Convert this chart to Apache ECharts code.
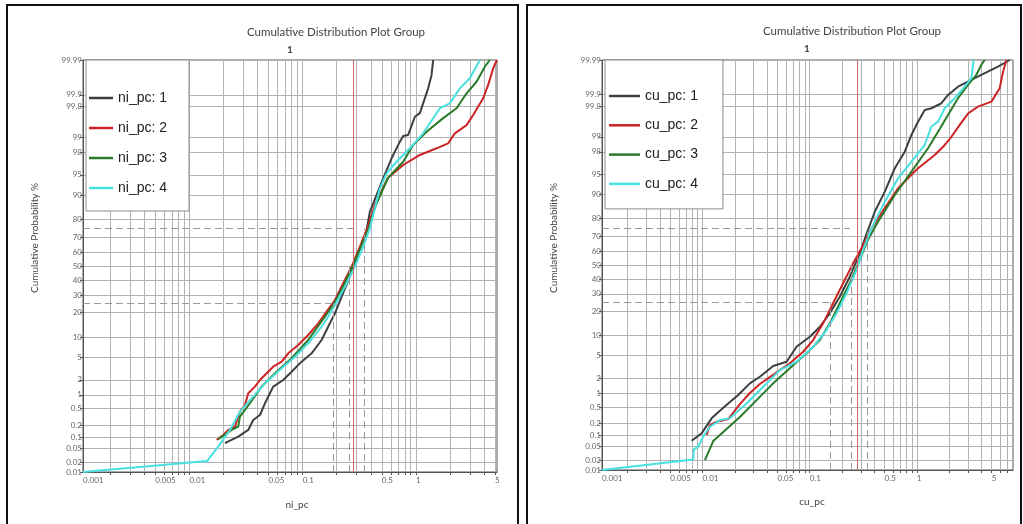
<!DOCTYPE html>
<html><head><meta charset="utf-8">
<script src="https://cdn.jsdelivr.net/npm/echarts@6/dist/echarts.min.js"></script>
<style>html,body{margin:0;padding:0;background:#fff}#c{width:1023px;height:524px}</style>
</head><body><div id="c"></div>
<script>
// ---------- DATA ----------
const titleText = 'Cumulative Distribution Plot Group';
const yTickLabels = ['0.01','0.02','0.05','0.1','0.2','0.5','1','2','5','10','20','30','40','50','60','70','80','90','95','98','99','99.8','99.9','99.99'];
const xGridValues = [0.002,0.003,0.004,0.005,0.006,0.007,0.008,0.009,0.01,0.02,0.03,0.04,0.05,0.06,0.07,0.08,0.09,0.1,0.2,0.3,0.4,0.5,0.6,0.7,0.8,0.9,1,2,3,4,5,6,7,8,9];
const xAxisMin = 0.00115;
const xLabelValues = [0.00115,0.005,0.01,0.05,0.1,0.5,1,5];
const niNames = ['ni_pc: 1','ni_pc: 2','ni_pc: 3','ni_pc: 4'];
const cuNames = ['cu_pc: 1','cu_pc: 2','cu_pc: 3','cu_pc: 4'];

// ni_pc (grade, cumulative %)
const niX1 = [0.0206,0.0270,0.0331,0.0366,0.0420,0.0465,0.0550,0.0674,0.0799,0.0979,0.120,0.147,0.168,0.193,0.221,0.261,0.309,0.367,0.392,0.514,0.610,0.722,0.772,0.855,0.979,1.084,1.283,1.375,1.420];
const niP1 = [0.069,0.103,0.154,0.272,0.357,0.66,1.47,1.98,2.82,4.21,5.75,9.08,13.66,19.66,28.98,42.3,59.1,74.2,83.6,94.33,97.41,98.76,99.05,99.10,99.648,99.71,99.933,99.972,99.99];
const niX2 = [0.01741,0.01991,0.02204,0.02526,0.02795,0.03094,0.0331,0.0379,0.0420,0.0481,0.0550,0.0653,0.0746,0.0914,0.1120,0.1373,0.1627,0.193,0.2282,0.2706,0.3202,0.367,0.4344,0.5658,0.772,1.084,1.522,1.927,2.208,2.801,3.203,3.925,4.345,4.81,5.185];
const niP2 = [0.084,0.114,0.154,0.186,0.427,0.605,1.08,1.47,1.98,2.64,3.45,4.21,5.75,7.69,10.65,15.05,20.47,26.97,37.74,49.5,63.6,74.2,86.45,94.39,96.59,97.75,98.32,98.66,99.17,99.45,99.68,99.877,99.946,99.982,99.99];
const niX3 = [0.01798,0.0236,0.0270,0.02795,0.03424,0.04345,0.0569,0.0799,0.1120,0.1573,0.193,0.2313,0.2750,0.3268,0.3770,0.4433,0.5658,0.772,0.946,1.242,1.741,2.286,2.801,3.432,4.062,4.497];
const niP3 = [0.088,0.154,0.186,0.326,0.66,1.47,2.64,4.79,9.08,18.0,25.8,36.6,49.5,63.6,74.2,86.45,94.39,97.01,98.55,99.23,99.62,99.78,99.909,99.956,99.984,99.99];
const niX4 = [0.00115,0.01438,0.01798,0.02281,0.02795,0.0366,0.0481,0.0653,0.0855,0.1120,0.147,0.168,0.193,0.236,0.289,0.3425,0.392,0.481,0.551,0.675,0.885,1.159,1.628,1.995,2.444,2.995,3.670];
const niP4 = [0.01,0.0216,0.0553,0.154,0.427,0.916,1.84,3.24,5.08,8.15,13.66,18.0,24.07,35.4,49.5,63.6,75.2,91.96,95.29,97.01,98.32,99.17,99.78,99.834,99.933,99.965,99.99];

// cu_pc (grade, cumulative %)
const cuX1 = [0.00790,0.00979,0.01213,0.01450,0.01733,0.02149,0.02762,0.03424,0.04557,0.0608,0.0753,0.1002,0.1243,0.1540,0.1909,0.2366,0.2934,0.3409,0.4048,0.5021,0.6222,0.7712,0.8906,1.026,1.185,1.369,1.697,1.955,2.423,3.232,4.301,5.722,7.36];
const cuP1 = [0.0714,0.113,0.270,0.41,0.60,0.916,1.59,2.13,3.34,3.96,6.90,9.66,13.14,19.03,28.26,41.6,58.4,71.9,83.3,90.83,96.04,98.01,99.084,99.535,99.755,99.777,99.833,99.898,99.939,99.961,99.975,99.984,99.99];
const cuX2 = [0.01090,0.01170,0.01351,0.01733,0.02228,0.02762,0.03424,0.04245,0.0526,0.0652,0.0868,0.1076,0.1334,0.1653,0.2049,0.2541,0.3129,0.3797,0.4675,0.6679,1.026,1.469,1.821,2.102,2.514,3.004,3.724,4.966,5.935,6.372,6.853];
const cuP2 = [0.102,0.184,0.223,0.26,0.58,1.01,1.54,2.10,2.83,3.72,5.78,8.67,14.5,24.35,37.0,51.2,63.5,74.9,82.7,91.8,96.04,97.70,98.53,99.00,99.45,99.70,99.797,99.848,99.933,99.977,99.99];
const cuX3 = [0.01051,0.01256,0.01674,0.02228,0.03190,0.04557,0.0652,0.0934,0.1243,0.1540,0.1909,0.2366,0.2934,0.3483,0.4346,0.6222,0.8906,1.272,1.577,1.955,2.423,3.004,3.597,4.006,4.301];
const cuP3 = [0.020,0.070,0.146,0.29,0.71,1.59,3.04,5.45,8.67,14.5,24.35,37.0,53.6,67.5,78.4,89.8,95.48,98.29,99.22,99.676,99.876,99.946,99.972,99.986,99.99];
const cuX4 = [0.00115,0.00818,0.00830,0.00910,0.01007,0.01170,0.01450,0.01797,0.02573,0.03676,0.0526,0.0753,0.1076,0.1435,0.1779,0.2205,0.2733,0.3197,0.3772,0.5021,0.6679,0.8906,1.185,1.369,1.577,1.821,2.258,2.798,3.232,3.344,3.395];
const cuP4 = [0.01,0.021,0.041,0.049,0.090,0.167,0.245,0.27,0.60,1.36,2.83,3.96,6.90,11.9,19.03,30.4,46.4,62.1,74.7,87.47,94.22,96.96,98.53,99.40,99.535,99.777,99.876,99.939,99.965,99.986,99.99];

// reference grades (quartile / cut-off markers)
const niQ1 = 0.185, niMid = 0.256, niQ3 = 0.347, niCut = 0.28, niQ3h = 0.28;
const cuQ1 = 0.157, cuMid = 0.242, cuQ3 = 0.348, cuCut = 0.28, cuQ3h = 0.237;

// ---------- probability (probit) transform ----------
function probit(p){
  const a=[-3.969683028665376e+01,2.209460984245205e+02,-2.759285104469687e+02,1.383577518672690e+02,-3.066479806614716e+01,2.506628277459239e+00];
  const b=[-5.447609879822406e+01,1.615858368580409e+02,-1.556989798598866e+02,6.680131188771972e+01,-1.328068155288572e+01];
  const c=[-7.784894002430293e-03,-3.223964580411365e-01,-2.400758277161838e+00,-2.549732539343734e+00,4.374664141464968e+00,2.938163982698783e+00];
  const d=[7.784695709041462e-03,3.224671290700398e-01,2.445134137142996e+00,3.754408661907416e+00];
  const pl=0.02425, ph=1-pl; let q,r;
  if(p<pl){q=Math.sqrt(-2*Math.log(p));return (((((c[0]*q+c[1])*q+c[2])*q+c[3])*q+c[4])*q+c[5])/((((d[0]*q+d[1])*q+d[2])*q+d[3])*q+1);}
  if(p<=ph){q=p-0.5;r=q*q;return (((((a[0]*r+a[1])*r+a[2])*r+a[3])*r+a[4])*r+a[5])*q/(((((b[0]*r+b[1])*r+b[2])*r+b[3])*r+b[4])*r+1);}
  q=Math.sqrt(-2*Math.log(1-p));return -(((((c[0]*q+c[1])*q+c[2])*q+c[3])*q+c[4])*q+c[5])/((((d[0]*q+d[1])*q+d[2])*q+d[3])*q+1);
}
const Z = pct => probit(pct/100);
const yTickVals = yTickLabels.map(s => Z(parseFloat(s)));
const Y_MIN = Z(0.01), Y_MAX = Z(99.99);
function yLabel(v){
  let best=0, bd=1e9;
  yTickVals.forEach((t,i)=>{const dd=Math.abs(t-v); if(dd<bd){bd=dd;best=i;}});
  return yTickLabels[best];
}
const pairs = (xs, ps) => xs.map((x,i)=>[x, Z(ps[i])]);

// ---------- STYLE ----------
const COLORS = ['#3b4141','#cc2424','#2a7a2a','#48e0e0'];
const LBL_FONT = 'Lato, "Open Sans", sans-serif';
const GRID_C = '#b2b2b2';

function mkX(idx, max){
  return {
    type:'log', logBase:10, gridIndex:idx, min:xAxisMin, max:max,
    axisLine:{show:true, onZero:false, lineStyle:{color:'#555', width:1}},
    axisTick:{show:true, customValues:xGridValues, length:3, lineStyle:{color:'#555'}},
    axisLabel:{customValues:xLabelValues, formatter:v=>String(+(+v).toPrecision(1)),
      fontSize:8, color:'#666', fontFamily:LBL_FONT, align:'left', margin:4},
    splitLine:{show:true, lineStyle:{color:GRID_C, width:1}},
    minorTick:{show:false}, minorSplitLine:{show:false}
  };
}
function mkY(idx){
  return {
    type:'value', gridIndex:idx, min:Y_MIN, max:Y_MAX,
    axisLine:{show:true, lineStyle:{color:'#555', width:1}},
    axisTick:{show:true, customValues:yTickVals, length:3, lineStyle:{color:'#555'}},
    axisLabel:{customValues:yTickVals, formatter:yLabel, fontSize:8, color:'#666', fontFamily:LBL_FONT, margin:1},
    splitLine:{show:true, lineStyle:{color:GRID_C, width:1}}
  };
}
function mkSeries(name, xs, ps, gi, ci){
  return {type:'line', name, xAxisIndex:gi, yAxisIndex:gi, data:pairs(xs,ps),
    symbol:'none', showSymbol:false, lineStyle:{width:2, color:COLORS[ci]}, itemStyle:{color:COLORS[ci]},
    z:3, silent:true};
}
const dash = {type:[7,4], color:'#9a9a9a', width:1};
const redL = {type:'solid', color:'#d66a6a', width:1};
function seg(x1,p1,x2,p2,ls){ return [{coord:[x1,Z(p1)], lineStyle:ls},{coord:[x2,Z(p2)]}]; }
function refSeries(gi, q1, mid, q3, cut, q3h){
  return {type:'line', name:'ref'+gi, xAxisIndex:gi, yAxisIndex:gi, data:[], silent:true,
    markLine:{symbol:'none', silent:true, label:{show:false}, animation:false,
      data:[
        seg(xAxisMin,25,q1,25,dash),
        seg(xAxisMin,75,q3h,75,dash),
        seg(q1,0.01,q1,25,dash),
        seg(mid,0.01,mid,50,dash),
        seg(q3,0.01,q3,75,dash),
        seg(cut,0.01,cut,99.99,redL)
      ]}};
}
function mkLegend(names, left, padding, itemWidth, itemGap){
  return {data:names, orient:'vertical', left, top:60, icon:'rect', itemWidth, itemHeight:2.5, itemGap,
    padding, backgroundColor:'#fff', borderColor:'#8c8c8c', borderWidth:1, selectedMode:false,
    textStyle:{fontFamily:'"Liberation Sans", Arial, sans-serif', fontSize:14, color:'#222', lineHeight:16}, z:10};
}
function txt(x,y,text,font,extra){
  return Object.assign({type:'text', x, y, silent:true, z:20,
    style:{text, font:font, fill:'#444', textAlign:'center', textVerticalAlign:'middle'}}, extra||{});
}

const option = {
  backgroundColor:'#fff', animation:false,
  grid:[
    {left:83, top:60, width:414, height:412, show:true, borderColor:'#555', borderWidth:1, backgroundColor:'#fff'},
    {left:602, top:60, width:411, height:410, show:true, borderColor:'#555', borderWidth:1, backgroundColor:'#fff'}
  ],
  xAxis:[mkX(0,5.2), mkX(1,7.9)],
  yAxis:[mkY(0), mkY(1)],
  legend:[
    mkLegend(niNames, 86, [30,22,15,3], 24, 14),
    mkLegend(cuNames, 605, [28,25,17,4], 31, 13.3)
  ],
  series:[
    refSeries(0, niQ1, niMid, niQ3, niCut, niQ3h),
    refSeries(1, cuQ1, cuMid, cuQ3, cuCut, cuQ3h),
    mkSeries(niNames[0], niX1, niP1, 0, 0),
    mkSeries(niNames[1], niX2, niP2, 0, 1),
    mkSeries(niNames[2], niX3, niP3, 0, 2),
    mkSeries(niNames[3], niX4, niP4, 0, 3),
    mkSeries(cuNames[0], cuX1, cuP1, 1, 0),
    mkSeries(cuNames[1], cuX2, cuP2, 1, 1),
    mkSeries(cuNames[2], cuX3, cuP3, 1, 2),
    mkSeries(cuNames[3], cuX4, cuP4, 1, 3)
  ],
  graphic:[
    {type:'rect', shape:{x:7,y:5,width:511,height:540}, style:{fill:'none', stroke:'#111', lineWidth:2}, silent:true, z:20},
    {type:'rect', shape:{x:527,y:5,width:494,height:540}, style:{fill:'none', stroke:'#111', lineWidth:2}, silent:true, z:20},
    txt(336,32,titleText,'11.5px '+LBL_FONT),
    txt(852,31,titleText,'11.5px '+LBL_FONT),
    txt(290,50,'1','bold 10px '+LBL_FONT),
    txt(807,49,'1','bold 10px '+LBL_FONT),
    txt(35,238,'Cumulative Probability %','10px '+LBL_FONT,{rotation:Math.PI/2}),
    txt(554,238,'Cumulative Probability %','10px '+LBL_FONT,{rotation:Math.PI/2}),
    txt(297,505,'ni_pc','10px '+LBL_FONT),
    txt(812,502,'cu_pc','10px '+LBL_FONT)
  ]
};
const chart = echarts.init(document.getElementById('c'), null, {renderer:'canvas'});
chart.setOption(option);
</script></body></html>
